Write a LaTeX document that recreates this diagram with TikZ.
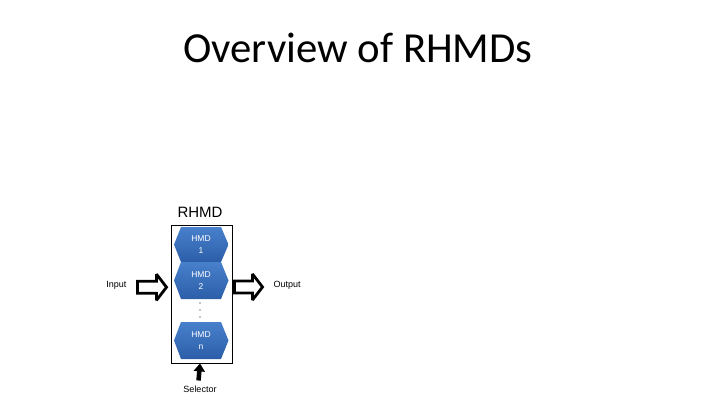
\documentclass[tikz,border=0pt]{standalone}
\usepackage{fontspec}
\setmainfont{Liberation Sans}
\newfontfamily\titlefont{Carlito}
\usetikzlibrary{arrows.meta}
\definecolor{hexTop}{RGB}{72,128,204}
\definecolor{hexBot}{RGB}{44,94,168}
\newcommand{\myblockarrow}[4]{% x0, head base x, tip x, y center
  \draw[blockarrow] (#1,#4-6) -- (#2,#4-6) -- (#2,#4-13) -- (#3,#4) -- (#2,#4+13) -- (#2,#4+6) -- (#1,#4+6) -- cycle;}
\begin{document}
\begin{tikzpicture}[x=1pt,y=-1pt,
  hexbox/.style={top color=hexTop,bottom color=hexBot,draw=none},
  hextext/.style={text=white,font=\fontsize{8.5}{12}\selectfont,align=center},
  lbl/.style={font=\fontsize{9}{11}\selectfont,text=black},
  blockarrow/.style={draw=black,line width=2.8pt,fill=white,miter limit=3}]
\useasboundingbox (0,0) rectangle (720,405);
\node[font=\titlefont\fontsize{42.8}{46}\selectfont] (title) at (358,48) {Overview of RHMDs};
\node[font=\fontsize{15}{17}\selectfont] (rhmdlbl) at (200,212) {RHMD};
\node[draw=black,line width=0.8pt,minimum width=61pt,minimum height=138pt,inner sep=0pt] (box) at (201.5,294) {};
% hexagons
\foreach \n/\ya/\yb/\ta/\tb in {h1/227/262/HMD/1,h2/262/299/HMD/2,hn/322/359/HMD/n}{
  \path[hexbox] (174,{(\ya+\yb)/2}) -- (181,\ya) -- (221,\ya) -- (228.5,{(\ya+\yb)/2}) -- (221,\yb) -- (181,\yb) -- cycle;
  \node[hextext] (\n) at (201,{(\ya+\yb)/2}) {\ta\\\tb};
}
\foreach \y in {303,310,317}{\fill (200,\y) circle (0.6pt);}
\node[lbl,anchor=east] (input) at (130,285) {Input};
\node[lbl,anchor=west] (output) at (270,285) {Output};
\myblockarrow{137.5}{156.5}{166.5}{287.2}
\myblockarrow{234.5}{252.5}{262.5}{287}
\node[lbl] (selector) at (200,389.5) {Selector};
\draw[line width=4.5pt,-{Triangle[length=8pt,width=11pt]}] ([xshift=-1.5pt]selector.north |- 0,380.5) -- ([xshift=-1.5pt]box.south);
\end{tikzpicture}
\end{document}
